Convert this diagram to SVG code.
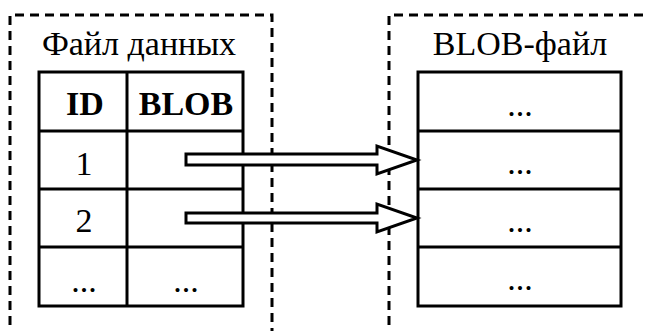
<svg xmlns="http://www.w3.org/2000/svg" width="646" height="331" viewBox="0 0 646 331">
<style>
.dash{fill:none;stroke:#000;stroke-width:3;stroke-dasharray:9 6}
.tbl{fill:#fff;stroke:#000;stroke-width:3}
.ln{stroke:#000;stroke-width:3}
.t{font-family:"Liberation Serif","Times New Roman",serif;font-size:34px;fill:#000;text-anchor:middle}
.b{font-weight:bold}
.arr{fill:#fff;stroke:#000;stroke-width:3;stroke-linejoin:miter}
</style>
<rect width="646" height="331" fill="#fff"/>
<g id="datafile">
<path class="dash" d="M10,340 V15 H272 V340"/>
<text class="t" x="139" y="55">Файл данных</text>
<rect class="tbl" x="39" y="72" width="204" height="234"/>
<line class="ln" x1="127" y1="72" x2="127" y2="306"/>
<line class="ln" x1="39" y1="131" x2="243" y2="131"/>
<line class="ln" x1="39" y1="189" x2="243" y2="189"/>
<line class="ln" x1="39" y1="247" x2="243" y2="247"/>
<text class="t b" x="85" y="115">ID</text>
<text class="t b" x="186" y="115">BLOB</text>
<text class="t" x="84" y="175">1</text>
<text class="t" x="84" y="232">2</text>
<text class="t" x="84" y="292">...</text>
<text class="t" x="186" y="292">...</text>
</g>
<g id="blobfile">
<path class="dash" d="M389,340 V15 H660"/>
<text class="t" x="520" y="55">BLOB-файл</text>
<rect class="tbl" x="418" y="72" width="203" height="234"/>
<line class="ln" x1="418" y1="131" x2="621" y2="131"/>
<line class="ln" x1="418" y1="189" x2="621" y2="189"/>
<line class="ln" x1="418" y1="247" x2="621" y2="247"/>
<text class="t" x="520" y="116">...</text>
<text class="t" x="520" y="174">...</text>
<text class="t" x="520" y="232">...</text>
<text class="t" x="520" y="290">...</text>
</g>
<g id="connectors">
<path class="arr" d="M186,154 H377 V146 L417,160 L377,174 V165 H186 Z"/>
<path class="arr" d="M186,213 H377 V204 L417,218 L377,232 V223 H186 Z"/>
</g>
</svg>
